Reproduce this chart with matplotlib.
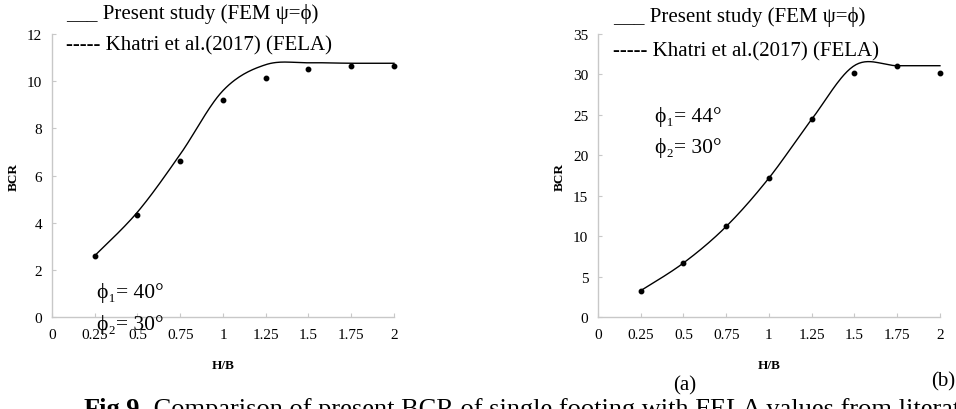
import numpy as np
import matplotlib.pyplot as plt

plt.rcParams['font.family'] = ['Liberation Serif', 'DejaVu Serif']

hb = [0.25, 0.5, 0.75, 1.0, 1.25, 1.5, 1.75, 2.0]

# (a) phi1 = 40, phi2 = 30
fem_a = [2.6, 4.45, 6.9, 9.6, 10.7, 10.78, 10.76, 10.76]
fela_a = [2.6, 4.32, 6.63, 9.22, 10.15, 10.52, 10.66, 10.66]

# (b) phi1 = 44, phi2 = 30
fem_b = [3.26, 6.68, 11.2, 17.19, 24.45, 31.1, 31.08, 31.08]
fela_b = [3.26, 6.68, 11.2, 17.19, 24.45, 30.17, 31.08, 30.17]

xticks = [0, 0.25, 0.5, 0.75, 1, 1.25, 1.5, 1.75, 2]
xtick_labels = ['0', '0.25', '0.5', '0.75', '1', '1.25', '1.5', '1.75', '2']


def smooth(x, y, n=30):
    # excel style smoothed line (catmull-rom)
    x = np.asarray(x, float)
    y = np.asarray(y, float)
    px = np.concatenate([[x[0]], x, [x[-1]]])
    py = np.concatenate([[y[0]], y, [y[-1]]])
    xs, ys = [], []
    t = np.linspace(0, 1, n)
    for i in range(1, len(px) - 2):
        p0 = np.array([px[i], py[i]])
        p3 = np.array([px[i + 1], py[i + 1]])
        c1 = p0 + (np.array([px[i + 1], py[i + 1]]) - np.array([px[i - 1], py[i - 1]])) / 6
        c2 = p3 - (np.array([px[i + 2], py[i + 2]]) - np.array([px[i], py[i]])) / 6
        b = ((1 - t) ** 3)[:, None] * p0 + (3 * (1 - t) ** 2 * t)[:, None] * c1 \
            + (3 * (1 - t) * t ** 2)[:, None] * c2 + (t ** 3)[:, None] * p3
        xs.extend(b[:, 0])
        ys.extend(b[:, 1])
    return np.array(xs), np.array(ys)


fig = plt.figure(figsize=(9.56, 4.10), dpi=100)
ax1 = fig.add_axes([0.0544, 0.2244, 0.3577, 0.6902])
ax2 = fig.add_axes([0.6255, 0.2244, 0.3577, 0.6902])

for ax, fem, fela, ymax, ystep in [(ax1, fem_a, fela_a, 12, 2), (ax2, fem_b, fela_b, 35, 5)]:
    sx, sy = smooth(hb, fem)
    ax.plot(sx, sy, color='black', lw=1.0, clip_on=False)
    ax.plot(hb, fela, 'o', color='black', ms=3.2, clip_on=False)
    ax.set_xlim(0, 2)
    ax.set_ylim(0, ymax)
    ax.set_xticks(xticks)
    ax.set_xticklabels(xtick_labels)
    ax.set_yticks(np.arange(0, ymax + 1, ystep))
    for s in ['top', 'right']:
        ax.spines[s].set_visible(False)
    for s in ['left', 'bottom']:
        ax.spines[s].set_color('#c8c8c8')
        ax.spines[s].set_linewidth(1.0)
    ax.tick_params(direction='in', length=3, color='#c8c8c8', labelsize=11)
    ax.tick_params(axis='x', pad=8)
    ax.tick_params(axis='y', pad=7)
    ax.set_xlabel('H/B', fontsize=9.5, fontweight='bold', labelpad=13)
    ax.set_ylabel('BCR', fontsize=9.5, fontweight='bold', labelpad=5)
    ax.patch.set_alpha(0)

# legend-like texts
fig.text(66 / 956, 1 - 14 / 410, '___ Present study (FEM \u03c8=\u03d5)', fontsize=15, va='center')
fig.text(66 / 956, 1 - 46 / 410, '----- Khatri et al.(2017) (FELA)', fontsize=15, va='center')
fig.text(613 / 956, 1 - 17 / 410, '___ Present study (FEM \u03c8=\u03d5)', fontsize=15, va='center')
fig.text(613 / 956, 1 - 52 / 410, '----- Khatri et al.(2017) (FELA)', fontsize=15, va='center')

fig.text(97 / 956, 1 - 293 / 410, '\u03d5\u2081= 40\u00b0', fontsize=15.5, va='center')
fig.text(97 / 956, 1 - 325 / 410, '\u03d5\u2082= 30\u00b0', fontsize=15.5, va='center')
fig.text(655 / 956, 1 - 117 / 410, '\u03d5\u2081= 44\u00b0', fontsize=15.5, va='center')
fig.text(655 / 956, 1 - 148 / 410, '\u03d5\u2082= 30\u00b0', fontsize=15.5, va='center')

fig.text(685 / 956, 1 - 386 / 410, '(a)', fontsize=15, ha='center', va='center')
fig.text(943 / 956, 1 - 382 / 410, '(b)', fontsize=15, ha='center', va='center')

cap = fig.text(84 / 956, 1 - 398 / 410, 'Fig.9.', fontsize=19, fontweight='bold', va='top')
plt.annotate(' Comparison of present BCR of single footing with FELA values from literature',
             xy=(1, 1), xycoords=cap, va='top', ha='left', fontsize=19,
             annotation_clip=False)

fig.savefig('out.png', dpi=100)
